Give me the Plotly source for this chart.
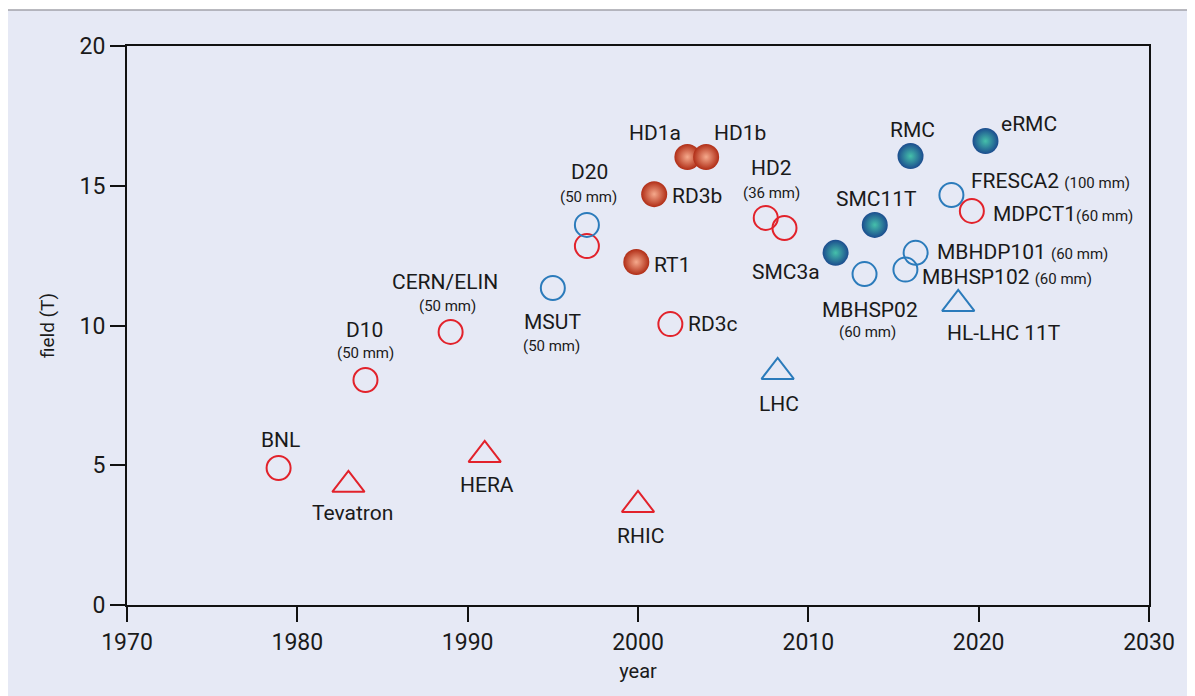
import plotly.graph_objects as go

# magnet data: name, year, peak field (T), group
names = ["BNL", "D10", "CERN/ELIN", "D20r", "RD3c", "HD2", "HD2b", "MDPCT1",
         "Tevatron", "HERA", "RHIC",
         "RT1", "RD3b", "HD1a", "HD1b",
         "MSUT", "D20", "MBHSP02", "MBHSP102", "MBHDP101", "FRESCA2",
         "LHC", "HL-LHC 11T",
         "SMC3a", "SMC11T", "RMC", "eRMC"]
years = [1978.9, 1984.0, 1989.0, 1997.0, 2001.9, 2007.5, 2008.6, 2019.6,
         1983.0, 1991.0, 2000.0,
         1999.9, 2000.95, 2002.9, 2004.0,
         1995.0, 1997.0, 2013.3, 2015.7, 2016.3, 2018.4,
         2008.2, 2018.8,
         2011.6, 2013.9, 2016.0, 2020.4]
fields = [4.9, 8.05, 9.77, 12.84, 10.05, 13.85, 13.49, 14.1,
          4.3, 5.37, 3.58,
          12.27, 14.7, 16.03, 16.03,
          11.34, 13.6, 11.84, 12.0, 12.6, 14.67,
          8.34, 10.77,
          12.6, 13.6, 16.06, 16.6]
groups = ["red_open"] * 8 + ["red_tri"] * 3 + ["red_full"] * 4 + \
         ["blue_open"] * 6 + ["blue_tri"] * 2 + ["blue_full"] * 4

RED = "#e2222b"
BLUE = "#2b7bbb"
BG = "#e6e9f5"
FONT = "Roboto, sans-serif"

styles = {
    "red_open": dict(symbol="circle-open", size=24, color=RED, line=dict(width=2, color=RED)),
    "blue_open": dict(symbol="circle-open", size=24, color=BLUE, line=dict(width=2, color=BLUE)),
    "red_tri": dict(symbol="triangle-up-open", size=28, color=RED, line=dict(width=2, color=RED)),
    "blue_tri": dict(symbol="triangle-up-open", size=28, color=BLUE, line=dict(width=2, color=BLUE)),
    "red_full": dict(symbol="circle", size=26, color="#b02d16",
                     gradient=dict(type="radial", color="#f5a98c"), line=dict(width=0)),
    "blue_full": dict(symbol="circle", size=26, color="#1b4c8e",
                      gradient=dict(type="radial", color="#45c0aa"), line=dict(width=0)),
}

fig = go.Figure()
for g in ["red_open", "blue_open", "red_tri", "blue_tri", "red_full", "blue_full"]:
    idx = [i for i, gg in enumerate(groups) if gg == g]
    fig.add_trace(go.Scatter(
        x=[years[i] for i in idx], y=[fields[i] for i in idx],
        mode="markers", marker=styles[g], hoverinfo="skip", showlegend=False))

# labels: point name -> list of (text, xshift, yshift, xanchor, size)
sm = "<span style='font-size:15px'>%s</span>"
labels = {
    "BNL": [("BNL", 2, 28, "center", 21)],
    "Tevatron": [("Tevatron", 4, -28, "center", 21)],
    "D10": [("D10", -1, 50, "center", 21), ("(50 mm)", 0, 27, "center", 15)],
    "CERN/ELIN": [("CERN/ELIN", -6, 50, "center", 21), ("(50 mm)", -3, 26, "center", 15)],
    "HERA": [("HERA", 2, -30, "center", 21)],
    "MSUT": [("MSUT", 0, -34, "center", 21), ("(50 mm)", -1, -58, "center", 15)],
    "D20": [("D20", 3, 53, "center", 21), ("(50 mm)", 2, 28, "center", 15)],
    "RHIC": [("RHIC", 2, -31, "center", 21)],
    "RT1": [("RT1", 16, -3, "left", 21)],
    "RD3b": [("RD3b", 16, -2, "left", 21)],
    "HD1a": [("HD1a", -32, 24, "center", 21)],
    "HD1b": [("HD1b", 34, 24, "center", 21)],
    "RD3c": [("RD3c", 16, 0, "left", 21)],
    "HD2": [("HD2", 6, 50, "center", 21), ("(36 mm)", 6, 25, "center", 15)],
    "LHC": [("LHC", 1, -32, "center", 21)],
    "SMC3a": [("SMC3a", -14, -19, "right", 21)],
    "SMC11T": [("SMC11T", 2, 26, "center", 21)],
    "MBHSP02": [("MBHSP02", 5, -36, "center", 21), ("(60 mm)", 3, -58, "center", 15)],
    "RMC": [("RMC", 2, 26, "center", 21)],
    "eRMC": [("eRMC", 14, 17, "left", 21)],
    "FRESCA2": [("FRESCA2 " + sm % "(100 mm)", 18, 14, "left", 21)],
    "MDPCT1": [("MDPCT1" + sm % "(60 mm)", 19, -3, "left", 21)],
    "MBHDP101": [("MBHDP101 " + sm % "(60 mm)", 19, 1, "left", 21)],
    "MBHSP102": [("MBHSP102 " + sm % "(60 mm)", 15, -7, "left", 21)],
    "HL-LHC 11T": [("HL-LHC 11T", -13, -29, "left", 21)],
}
for name, items in labels.items():
    i = names.index(name)
    for text, dx, dy, anchor, size in items:
        fig.add_annotation(x=years[i], y=fields[i], text=text, showarrow=False,
                           xshift=dx, yshift=dy, xanchor=anchor, yanchor="middle",
                           font=dict(size=size, color="#1a1a1a", family=FONT))

# outer panel
fig.add_shape(type="rect", xref="paper", yref="paper",
              x0=-0.1174, x1=1.2, y0=-0.3, y1=1.0644,
              fillcolor=BG, line=dict(color="#a3a3ab", width=1.5), layer="below")

axis_common = dict(showline=True, mirror=True, linecolor="#111", linewidth=2,
                   ticks="outside", ticklen=15, tickwidth=2, tickcolor="#111",
                   showgrid=False, zeroline=False,
                   tickfont=dict(size=23, color="#1a1a1a", family=FONT))
fig.update_xaxes(range=[1970, 2030], dtick=10, tick0=1970,
                 title=dict(text="year", font=dict(size=20, color="#1a1a1a", family=FONT), standoff=9),
                 **axis_common)
fig.update_yaxes(range=[0, 20], dtick=5, tick0=0,
                 title=dict(text="field (T)", font=dict(size=19, color="#1a1a1a", family=FONT), standoff=20),
                 **axis_common)

fig.update_layout(width=1195, height=696, margin=dict(l=119, r=54, t=38, b=99),
                  paper_bgcolor="white", plot_bgcolor=BG, font=dict(family=FONT))

fig.write_html("out.html")
